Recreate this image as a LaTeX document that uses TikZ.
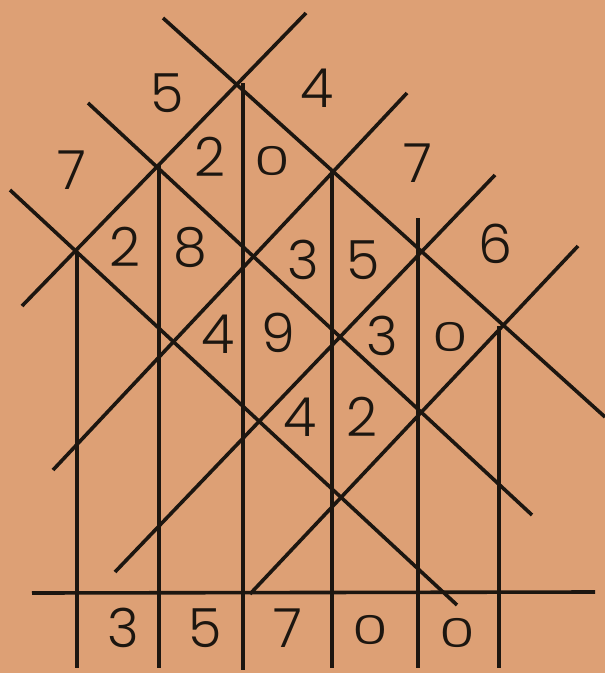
\documentclass[tikz,border=0pt]{standalone}
\usepackage{fontspec}
\setmainfont{Poppins Light}
\definecolor{paper}{RGB}{221,160,117}
\definecolor{ink}{RGB}{28,22,16}
\begin{document}
\begin{tikzpicture}[x=1pt,y=-1pt,
  ln/.style={draw=ink,line width=3.6pt},
  dig/.style={inner sep=0pt,text=ink,font=\fontsize{54}{54}\selectfont},
  zer/.style={inner sep=0pt,text=ink,xscale=1.45,transform shape,font=\fontsize{40}{40}\selectfont}]
\fill[paper] (0,0) rectangle (605,673);
\useasboundingbox (0,0) rectangle (605,673);
% free ends of the diagonal lines
\coordinate (L1s) at (163,18);  \coordinate (L1e) at (605,417);
\coordinate (L2s) at (88,103);  \coordinate (L2e) at (532,515);
\coordinate (L3s) at (10,190);  \coordinate (L3e) at (457,605);
\coordinate (M1s) at (306,13);  \coordinate (M1e) at (22,306);
\coordinate (M2s) at (407,93);  \coordinate (M2e) at (53,470);
\coordinate (M3s) at (495,175); \coordinate (M3e) at (115,572);
\coordinate (M4s) at (578,246); \coordinate (M4e) at (250,594);
% vertical lines
\coordinate (V1s) at (77,252);  \coordinate (V1e) at (77,668);
\coordinate (V2s) at (159,165); \coordinate (V2e) at (159,668);
\coordinate (V3s) at (243,83);  \coordinate (V3e) at (243,670);
\coordinate (V4s) at (332,170); \coordinate (V4e) at (332,668);
\coordinate (V5s) at (418,218); \coordinate (V5e) at (418,668);
\coordinate (V6s) at (499,326); \coordinate (V6e) at (499,668);
% horizontal
\coordinate (Hs) at (32,593); \coordinate (He) at (595,592);
\foreach \a in {L1,L2,L3,M1,M2,M3,M4,V1,V2,V3,V4,V5,V6,H}
  \draw[ln] (\a s) -- (\a e);
% multiplicand / multiplier digits
\node[dig] (d5) at (167,93) {5};
\node[dig] (d4) at (317,88) {4};
\node[dig] (d7a) at (72,170) {7};
\node[dig] (d7b) at (418,163) {7};
\node[dig] (d6) at (495,244) {6};
% partial products
\node[dig] (p2a) at (210,157) {2};
\node[zer] (p0a) at (272,161) {0};
\node[dig] (p2b) at (125,247) {2};
\node[dig] (p8) at (190,247) {8};
\node[dig] (p3a) at (303,260) {3};
\node[dig] (p5) at (363,260) {5};
\node[dig] (p4a) at (218,334) {4};
\node[dig] (p9) at (278,333) {9};
\node[dig] (p3b) at (382,336) {3};
\node[zer] (p0b) at (450,337) {0};
\node[dig] (p4b) at (300,417) {4};
\node[dig] (p2c) at (362,417) {2};
% result
\node[dig] (r3) at (123,628) {3};
\node[dig] (r5) at (205,628) {5};
\node[dig] (r7) at (288,628) {7};
\node[zer] (r0a) at (370,630) {0};
\node[zer] (r0b) at (457,633) {0};
\end{tikzpicture}
\end{document}
